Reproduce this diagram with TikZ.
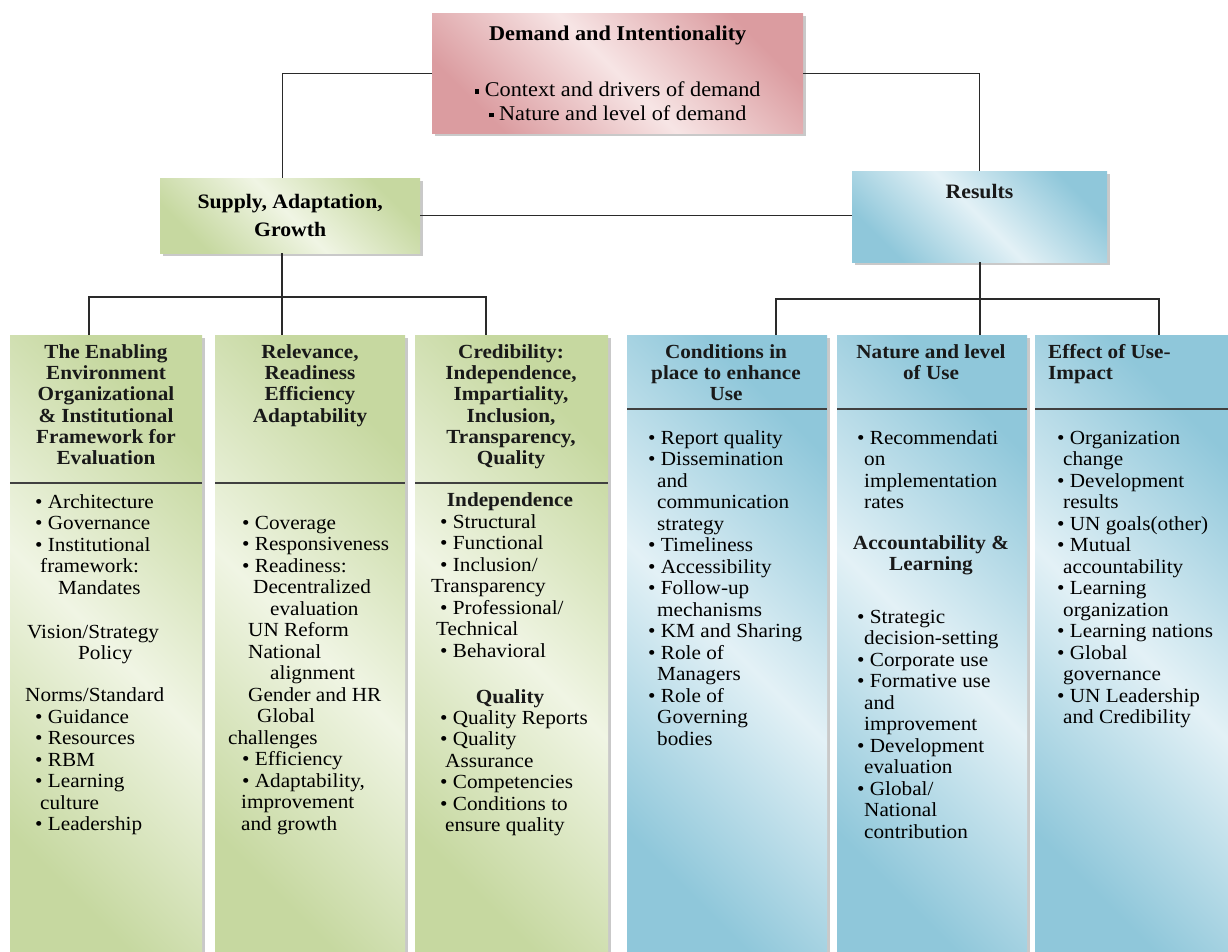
\documentclass[tikz,border=0pt]{standalone}
\usepackage{fontspec}
\setmainfont{Liberation Serif}[FakeStretch=1.06]
\usetikzlibrary{shadows}
\definecolor{pinkD}{HTML}{DB9CA0}
\definecolor{pinkL}{HTML}{F7E5E5}
\definecolor{greenD}{HTML}{C6D8A0}
\definecolor{greenL}{HTML}{F0F5E4}
\definecolor{blueD}{HTML}{8FC7DA}
\definecolor{blueL}{HTML}{E3F1F6}
\definecolor{lineC}{HTML}{2A2A2A}
\newcommand{\firstln}{\rule{0pt}{15pt}}
\newcommand{\bul}{\textbullet\ }
\newcommand{\sqb}{\raisebox{3pt}{\rule{4.5pt}{4.5pt}}\ }
\begin{document}
\begin{tikzpicture}[x=1pt,y=-1pt,
  shadowed/.style={drop shadow={shadow xshift=2.5pt,shadow yshift=-2.5pt,opacity=0.3,fill=black!70}},
  pinkbox/.style={shadowed,left color=pinkD,right color=pinkD,middle color=pinkL,shading angle=135,inner sep=0pt},
  greenbox/.style={shadowed,left color=greenD,right color=greenD,middle color=greenL,shading angle=135,inner sep=0pt},
  bluebox/.style={shadowed,left color=blueD,right color=blueD,middle color=blueL,shading angle=135,inner sep=0pt},
  hdr/.style={font=\fontsize{20}{21.3}\selectfont\bfseries,text=black!90,inner sep=0pt,align=center},
  lst/.style={font=\fontsize{20}{21.5}\selectfont,inner sep=0pt,align=left,anchor=north west},
  conn/.style={draw=lineC,line width=1.2pt},
  divider/.style={draw=black!75,line width=1.1pt}
]
\useasboundingbox (0,0) rectangle (1228,952);

% top level boxes
\node (top) [pinkbox,minimum width=371,minimum height=120,anchor=north west,
  font=\fontsize{21}{23.5}\selectfont,align=center] at (432,13)
  {\textbf{Demand and Intentionality}\\[33pt]\sqb Context and drivers of demand\\\sqb Nature and level of demand};
\node (supply) [greenbox,minimum width=260,minimum height=75,anchor=north west,
  font=\fontsize{20.5}{28}\selectfont\bfseries,align=center] at (160,178)
  {Supply, Adaptation,\\Growth};
\node (results) [bluebox,minimum width=255,minimum height=91,anchor=north west] at (852,171) {};
\node (resultsT) [hdr,font=\fontsize{20.5}{23}\selectfont\bfseries,anchor=base] at (979.5,198) {Results};

% columns
\node (c1) [greenbox,minimum width=192,minimum height=617,anchor=north west] at (10,335) {};
\node (c2) [greenbox,minimum width=190,minimum height=617,anchor=north west] at (215,335) {};
\node (c3) [greenbox,minimum width=193,minimum height=617,anchor=north west] at (415,335) {};
\node (c4) [bluebox,minimum width=200,minimum height=617,anchor=north west] at (627,335) {};
\node (c5) [bluebox,minimum width=190,minimum height=617,anchor=north west] at (837,335) {};
\node (c6) [bluebox,minimum width=193,minimum height=617,anchor=north west] at (1035,335) {};

% dividers
\coordinate (divG) at (0,483);
\coordinate (divB) at (0,409);
\draw[divider] (c1.west |- divG) -- (c1.east |- divG);
\draw[divider] (c2.west |- divG) -- (c2.east |- divG);
\draw[divider] (c3.west |- divG) -- (c3.east |- divG);
\draw[divider] (c4.west |- divB) -- (c4.east |- divB);
\draw[divider] (c5.west |- divB) -- (c5.east |- divB);
\draw[divider] (c6.west |- divB) -- (c6.east |- divB);

% column headers
\node (h1) [hdr,anchor=north] at (106,343) {\firstln The Enabling\\Environment\\Organizational\\\& Institutional\\Framework for\\Evaluation};
\node (h2) [hdr,anchor=north] at (310,343) {\firstln Relevance,\\Readiness\\Efficiency\\Adaptability};
\node (h3) [hdr,anchor=north] at (511,343) {\firstln Credibility:\\Independence,\\Impartiality,\\Inclusion,\\Transparency,\\Quality};
\node (h4) [hdr,anchor=north] at (726,343) {\firstln Conditions in\\place to enhance\\Use};
\node (h5) [hdr,anchor=north] at (931,343) {\firstln Nature and level\\of Use};
\node (h6) [hdr,align=left,anchor=north west] at (1048,343) {\firstln Effect of Use-\\Impact};

% column bodies
\node (b1) [lst] at (25,493) {\firstln\hspace*{10pt}\bul Architecture\\
\hspace*{10pt}\bul Governance\\
\hspace*{10pt}\bul Institutional\\
\hspace*{15pt}framework:\\
\hspace*{33pt}Mandates\\[22.5pt]
\hspace*{2pt}Vision/Strategy\\
\hspace*{53pt}Policy\\[20.5pt]
Norms/Standard\\
\hspace*{10pt}\bul Guidance\\
\hspace*{10pt}\bul Resources\\
\hspace*{10pt}\bul RBM\\
\hspace*{10pt}\bul Learning\\
\hspace*{15pt}culture\\
\hspace*{10pt}\bul Leadership};

\node (b2) [lst] at (228,514) {\firstln\hspace*{14pt}\bul Coverage\\
\hspace*{14pt}\bul Responsiveness\\
\hspace*{14pt}\bul Readiness:\\
\hspace*{25pt}Decentralized\\
\hspace*{42pt}evaluation\\
\hspace*{20pt}UN Reform\\
\hspace*{20pt}National\\
\hspace*{42pt}alignment\\
\hspace*{20pt}Gender and HR\\
\hspace*{29pt}Global\\
challenges\\
\hspace*{14pt}\bul Efficiency\\
\hspace*{14pt}\bul Adaptability,\\
\hspace*{13pt}improvement\\
\hspace*{13pt}and growth};

\node (s31) [hdr,anchor=base] at (510,506) {Independence};
\node (b31) [lst] at (431,513) {\firstln\hspace*{9pt}\bul Structural\\
\hspace*{9pt}\bul Functional\\
\hspace*{9pt}\bul Inclusion/\\
Transparency\\
\hspace*{9pt}\bul Professional/\\
\hspace*{5pt}Technical\\
\hspace*{9pt}\bul Behavioral};
\node (s32) [hdr,anchor=base] at (510,703) {Quality};
\node (b32) [lst] at (431,709) {\firstln\hspace*{9pt}\bul Quality Reports\\
\hspace*{9pt}\bul Quality\\
\hspace*{14pt}Assurance\\
\hspace*{9pt}\bul Competencies\\
\hspace*{9pt}\bul Conditions to\\
\hspace*{14pt}ensure quality};

\node (b4) [lst] at (648,429) {\firstln\bul Report quality\\
\bul Dissemination\\
\hspace*{9pt}and\\
\hspace*{9pt}communication\\
\hspace*{9pt}strategy\\
\bul Timeliness\\
\bul Accessibility\\
\bul Follow-up\\
\hspace*{9pt}mechanisms\\
\bul KM and Sharing\\
\bul Role of\\
\hspace*{9pt}Managers\\
\bul Role of\\
\hspace*{9pt}Governing\\
\hspace*{9pt}bodies};

\node (b51) [lst] at (857,429) {\firstln\bul Recommendati\\
\hspace*{7pt}on\\
\hspace*{7pt}implementation\\
\hspace*{7pt}rates};
\node (s5) [hdr,anchor=north] at (931,534) {\firstln Accountability \&\\Learning};
\node (b52) [lst] at (857,608) {\firstln\bul Strategic\\
\hspace*{7pt}decision-setting\\
\bul Corporate use\\
\bul Formative use\\
\hspace*{7pt}and\\
\hspace*{7pt}improvement\\
\bul Development\\
\hspace*{7pt}evaluation\\
\bul Global/\\
\hspace*{7pt}National\\
\hspace*{7pt}contribution};

\node (b6) [lst] at (1057,429) {\firstln\bul Organization\\
\hspace*{6pt}change\\
\bul Development\\
\hspace*{6pt}results\\
\bul UN goals(other)\\
\bul Mutual\\
\hspace*{6pt}accountability\\
\bul Learning\\
\hspace*{6pt}organization\\
\bul Learning nations\\
\bul Global\\
\hspace*{6pt}governance\\
\bul UN Leadership\\
\hspace*{6pt}and Credibility};

% connectors
\draw[conn] (top.west) -| ([xshift=-8pt]supply.north);
\draw[conn] (top.east) -| (results.north);
\draw[conn] (supply.east) -- (supply.east -| results.west);
\coordinate (bl1) at (89,297);
\coordinate (bl2) at (282,297);
\coordinate (bl3) at (486,297);
\draw[conn] (bl1 |- c1.north) -- (bl1) -- (bl3) -- (bl3 |- c3.north);
\draw[conn] (bl2 |- supply.south) -- (bl2 |- c2.north);
\coordinate (br1) at (776,299);
\coordinate (br2) at (980,299);
\coordinate (br3) at (1159,299);
\draw[conn] (br1 |- c4.north) -- (br1) -- (br3) -- (br3 |- c6.north);
\draw[conn] (br2 |- results.south) -- (br2 |- c5.north);
\end{tikzpicture}
\end{document}
